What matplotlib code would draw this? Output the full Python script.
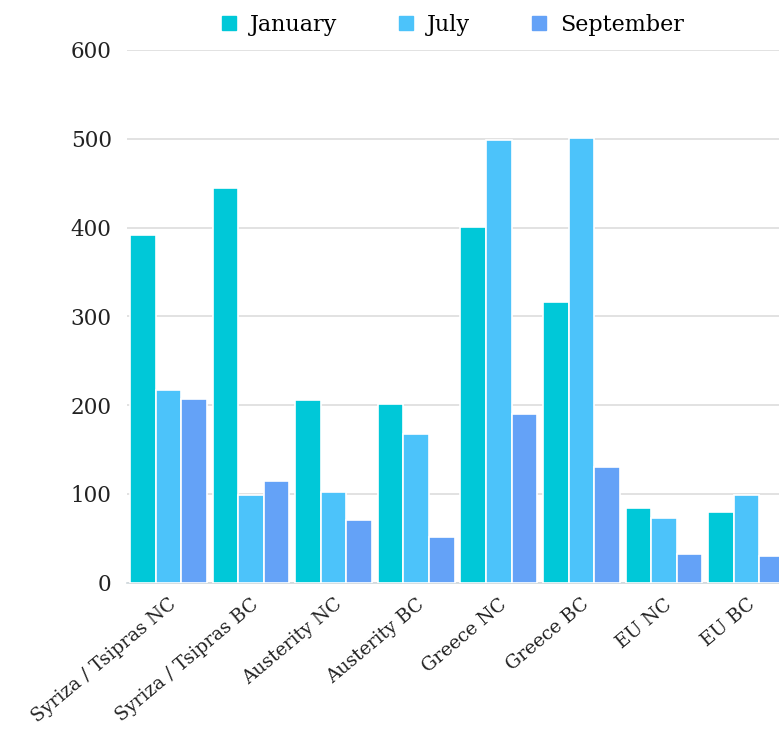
import matplotlib
matplotlib.use("Agg")
import matplotlib.pyplot as plt
from matplotlib.lines import Line2D
import numpy as np

categories = ["Syriza / Tsipras NC", "Syriza / Tsipras BC", "Austerity NC", "Austerity BC",
              "Greece NC", "Greece BC", "EU NC", "EU BC"]
january = [392, 445, 206, 201, 401, 316, 84, 80]
july = [217, 99, 102, 168, 499, 501, 73, 99]
september = [207, 114, 71, 52, 190, 130, 32, 30]
series_names = ["January", "July", "September"]
colors = ["#00C8D8", "#4CC3FA", "#64A2F7"]
yticks = [0, 100, 200, 300, 400, 500, 600]

plt.rcParams['font.family'] = ['DejaVu Serif']

fig = plt.figure(figsize=(7.79, 7.36), dpi=100)
ax = fig.add_axes([127/779, 153.3/736, 661/779, 532.7/736])

x = np.arange(len(categories))
w = 0.31
for i, (vals, c) in enumerate(zip([january, july, september], colors)):
    ax.bar(x + (i - 1) * w, vals, width=w, color=c, edgecolor="white", linewidth=1.2, zorder=3)

ax.set_xlim(-0.5, len(categories) - 0.5)
ax.set_ylim(0, 600)
ax.set_yticks(yticks)
ax.set_yticklabels([str(t) for t in yticks], fontsize=15.5, color="#222222")
ax.yaxis.grid(True, color="#dddddd", linewidth=1.2, zorder=0)
ax.set_axisbelow(True)
for s in ["top", "right", "left"]:
    ax.spines[s].set_visible(False)
ax.spines["bottom"].set_color("#cfd8dc")
ax.spines["bottom"].set_linewidth(1.2)
ax.tick_params(axis="y", length=0, pad=11)
ax.tick_params(axis="x", length=0, pad=9)
ax.set_xticks(x)
ax.set_xticklabels(categories, rotation=40, ha="right", va="top", rotation_mode="anchor",
                   fontsize=13.5, color="#222222")

handles = [Line2D([0], [0], marker="s", linestyle="", markersize=10, color=c) for c in colors]
fig.legend(handles, series_names, loc="upper center", bbox_to_anchor=(451/779, 1.008), ncol=3,
           frameon=False, fontsize=16, columnspacing=2.6, handletextpad=0.45, handlelength=1.0)

fig.savefig("out.png", dpi=100)
